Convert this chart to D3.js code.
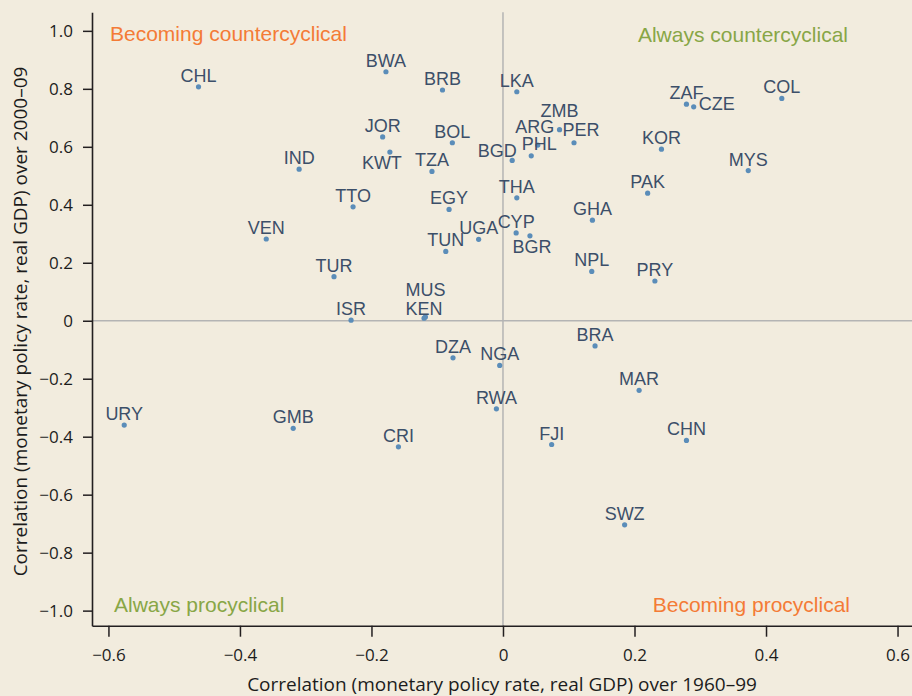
<!DOCTYPE html>
<html>
<head>
<meta charset="utf-8">
<script src="https://cdn.jsdelivr.net/npm/d3@7"></script>
<style>
  html, body { margin: 0; padding: 0; background: #f2ecde; }
  svg { display: block; }
</style>
</head>
<body>
<svg id="chart" width="912" height="696"></svg>
<script>
// Country codes and their policy-rate / GDP correlations in two periods
const countries = ["CHL","BWA","BRB","LKA","ZAF","CZE","COL","ZMB","JOR","BOL","ARG","PER","KOR","KWT","PHL","BGD","IND","TZA","MYS","PAK","THA","TTO","EGY","GHA","CYP","BGR","VEN","UGA","TUN","NPL","TUR","PRY","MUS","KEN","ISR","BRA","DZA","NGA","MAR","RWA","URY","GMB","CHN","FJI","CRI","SWZ"];
const corr1960to99 = [-0.463,-0.178,-0.092,0.021,0.279,0.290,0.424,0.086,-0.183,-0.077,0.053,0.108,0.241,-0.172,0.043,0.014,-0.310,-0.108,0.373,0.220,0.021,-0.228,-0.082,0.136,0.020,0.041,-0.360,-0.037,-0.087,0.135,-0.257,0.231,-0.118,-0.120,-0.231,0.140,-0.076,-0.005,0.207,-0.010,-0.576,-0.319,0.279,0.074,-0.159,0.185];
const corr2000to09 = [0.807,0.859,0.796,0.790,0.747,0.738,0.767,0.659,0.634,0.614,0.606,0.614,0.592,0.582,0.569,0.553,0.523,0.515,0.518,0.440,0.424,0.393,0.384,0.347,0.303,0.293,0.282,0.281,0.239,0.170,0.152,0.137,0.013,0.009,0.002,-0.087,-0.128,-0.154,-0.240,-0.304,-0.360,-0.371,-0.413,-0.427,-0.435,-0.704];

const xTicks = [-0.6,-0.4,-0.2,0,0.2,0.4,0.6];
const yTicks = [-1.0,-0.8,-0.6,-0.4,-0.2,0,0.2,0.4,0.6,0.8,1.0];
const xTitle = "Correlation (monetary policy rate, real GDP) over 1960–99";
const yTitle = "Correlation (monetary policy rate, real GDP) over 2000–09";
const quadrantNames = ["Becoming countercyclical","Always countercyclical","Always procyclical","Becoming procyclical"];

// Label placement tweaks (pixels) for crowded spots; default is centred just above the dot
const labelNudge = {
  KWT: [-8, 17], ZMB: [0, -13], ARG: [-3, -12], PER: [7, -7], PHL: [8, -6],
  BGD: [-15, -3], CZE: [23, 3], BGR: [2, 17], MUS: [0, -21], KEN: [0, -3]
};

const colors = {
  bg: "#f2ecde", dot: "#5b8db9", label: "#3c4f69", axis: "#231f20",
  ref: "#b4b4b4", orange: "#f47b36", green: "#88a646", tick: "#1c1c1c"
};

const W = 912, H = 696;
const plot = { left: 92, right: 912, top: 12.3, bottom: 625.7 };

const svg = d3.select("#chart");
svg.append("rect").attr("width", W).attr("height", H).attr("fill", colors.bg);

const x = d3.scaleLinear().domain([-0.625, 0.622]).range([plot.left, plot.right]);
const y = d3.scaleLinear().domain([-1.052, 1.064]).range([plot.bottom, plot.top]);

const fmt = v => v === 0 ? "0" : d3.format(".1f")(v).replace("-", "\u2212");

// Zero reference lines
svg.append("line")
  .attr("x1", plot.left).attr("x2", plot.right)
  .attr("y1", y(0)).attr("y2", y(0))
  .attr("stroke", colors.ref).attr("stroke-width", 1.5);
svg.append("line")
  .attr("x1", x(0)).attr("x2", x(0))
  .attr("y1", plot.top).attr("y2", plot.bottom)
  .attr("stroke", colors.ref).attr("stroke-width", 1.5);

// Axes
const tickFont = "'Open Sans', 'Noto Sans', sans-serif";
const xAxis = svg.append("g")
  .attr("transform", `translate(0,${plot.bottom})`)
  .call(d3.axisBottom(x).tickValues(xTicks).tickFormat(fmt).tickSize(11).tickSizeOuter(0).tickPadding(12));
const yAxis = svg.append("g")
  .attr("transform", `translate(${plot.left},0)`)
  .call(d3.axisLeft(y).tickValues(yTicks).tickFormat(fmt).tickSize(9).tickSizeOuter(0).tickPadding(10));

[xAxis, yAxis].forEach(g => {
  g.select(".domain").attr("stroke", colors.axis).attr("stroke-width", 1.6);
  g.selectAll(".tick line").attr("stroke", colors.axis).attr("stroke-width", 1.5);
  g.selectAll(".tick text")
    .attr("fill", colors.tick)
    .style("font-family", tickFont)
    .style("font-size", "17px");
});

// Axis titles, sized to span the same length along each axis
function fitText(sel, target, base) {
  const len = sel.node().getComputedTextLength();
  sel.style("font-size", (base * target / len) + "px");
}
const xt = svg.append("text")
  .attr("x", 502).attr("y", 691)
  .attr("text-anchor", "middle")
  .attr("fill", colors.tick)
  .style("font-family", tickFont).style("font-size", "18px")
  .text(xTitle);
fitText(xt, 510, 18);

const yt = svg.append("text")
  .attr("transform", `translate(26.5,${321.5}) rotate(-90)`)
  .attr("text-anchor", "middle")
  .attr("fill", colors.tick)
  .style("font-family", tickFont).style("font-size", "18px")
  .text(yTitle);
fitText(yt, 510, 18);

// Quadrant captions
const quad = [
  { text: quadrantNames[0], x: 110, y: 40.5, anchor: "start", color: colors.orange },
  { text: quadrantNames[1], x: 848, y: 41.5, anchor: "end", color: colors.green },
  { text: quadrantNames[2], x: 114, y: 612.3, anchor: "start", color: colors.green },
  { text: quadrantNames[3], x: 850, y: 611.7, anchor: "end", color: colors.orange }
];
svg.append("g").selectAll("text").data(quad).join("text")
  .attr("x", d => d.x).attr("y", d => d.y)
  .attr("text-anchor", d => d.anchor)
  .attr("fill", d => d.color)
  .style("font-family", "'Liberation Sans', Arial, sans-serif")
  .style("font-size", "21px")
  .text(d => d.text);

// Points and country labels
const points = countries.map((c, i) => ({ code: c, a: corr1960to99[i], b: corr2000to09[i] }));

svg.append("g").selectAll("circle").data(points).join("circle")
  .attr("cx", d => x(d.a)).attr("cy", d => y(d.b))
  .attr("r", 2.6)
  .attr("fill", colors.dot);

svg.append("g").selectAll("text").data(points).join("text")
  .attr("x", d => x(d.a) + (labelNudge[d.code] ? labelNudge[d.code][0] : 0))
  .attr("y", d => y(d.b) + (labelNudge[d.code] ? labelNudge[d.code][1] : -5))
  .attr("text-anchor", "middle")
  .attr("fill", colors.label)
  .style("font-family", "'Liberation Sans', Arial, sans-serif")
  .style("font-size", "18px")
  .text(d => d.code);
</script>
</body>
</html>
